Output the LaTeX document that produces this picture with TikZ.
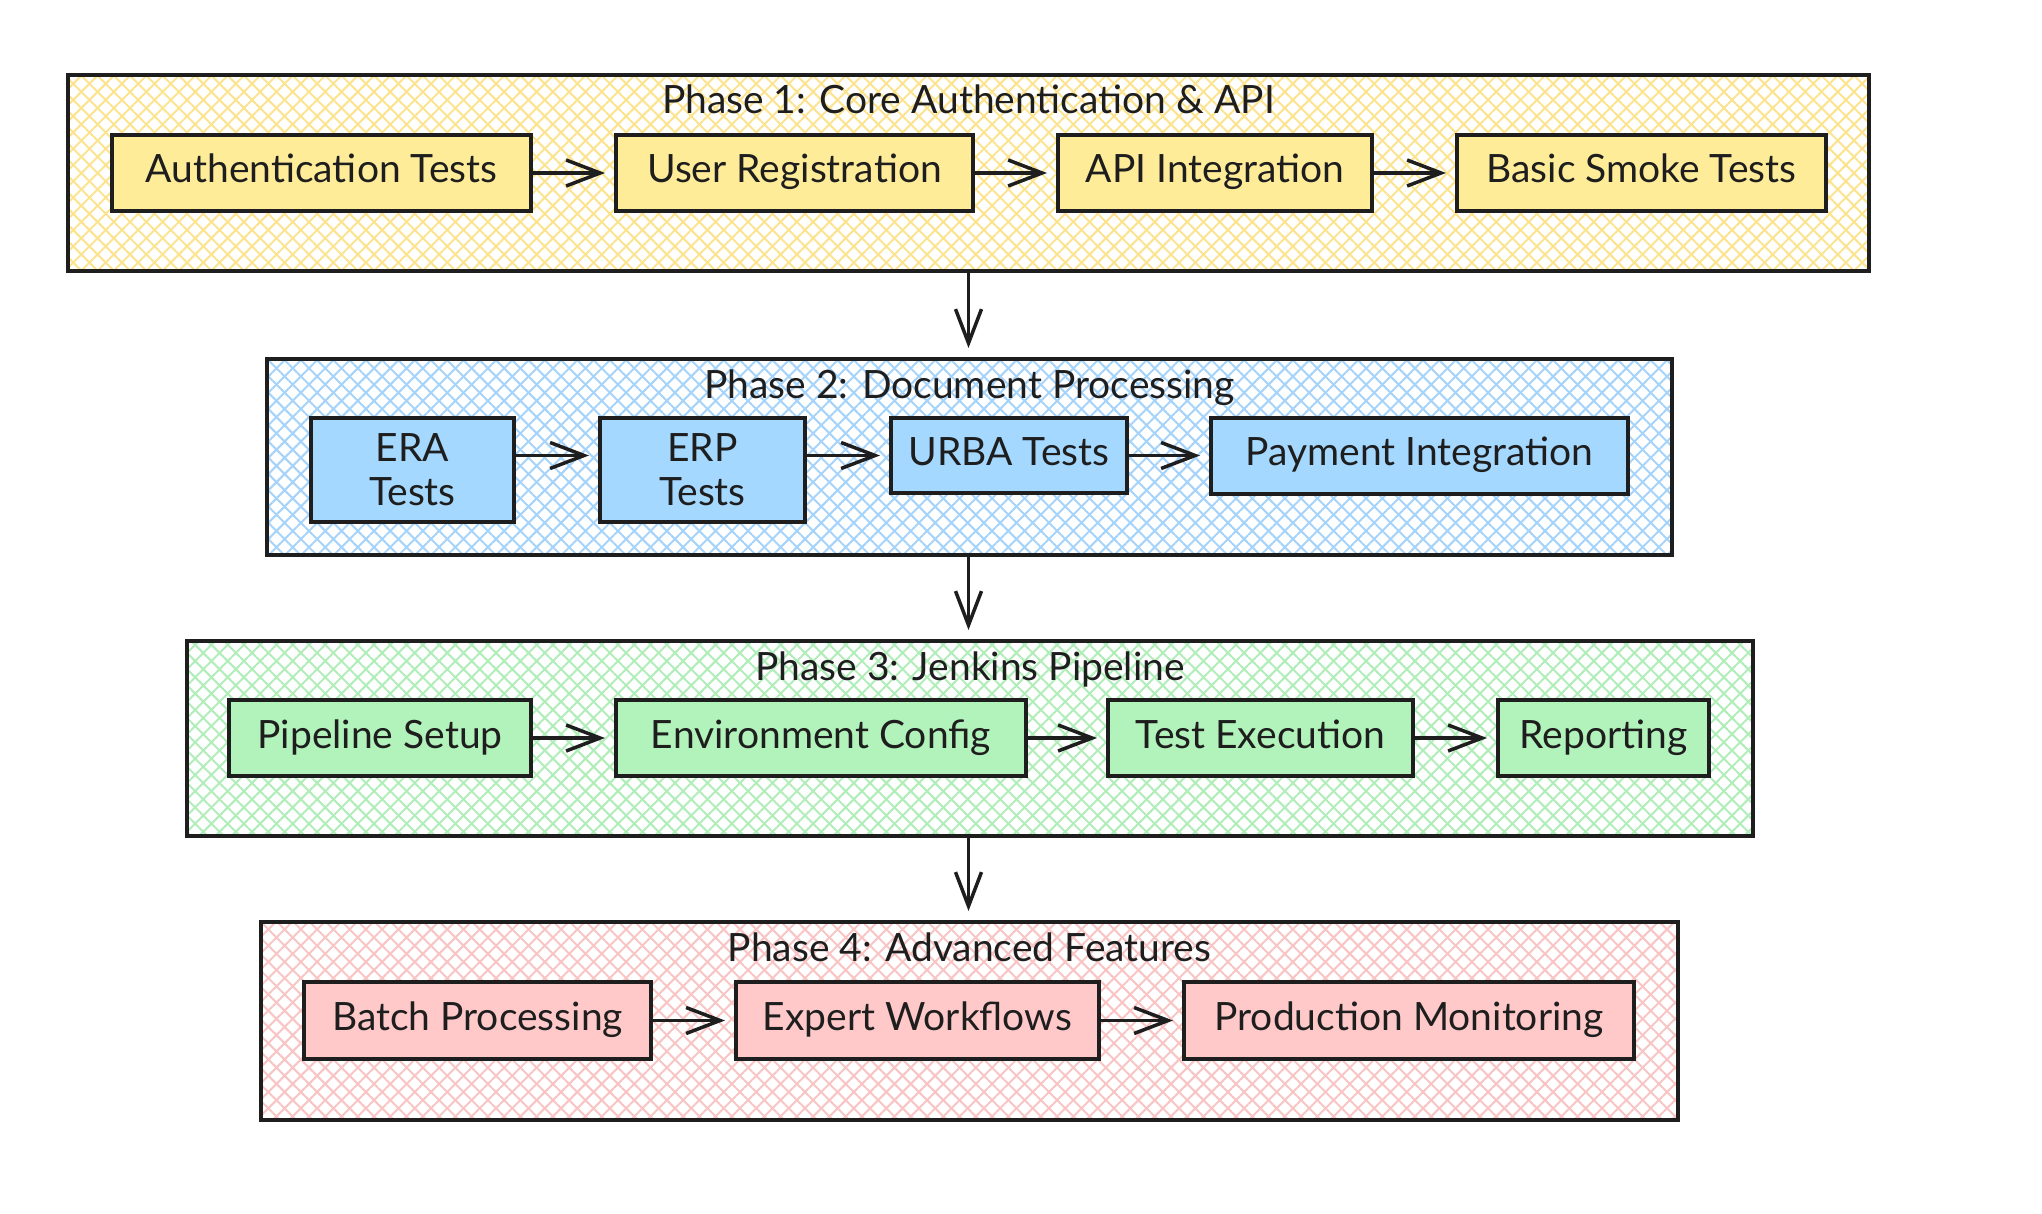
\documentclass[tikz,border=0pt]{standalone}
\usepackage{fontspec}
\setmainfont{Lato}
\usetikzlibrary{arrows.meta,patterns.meta}
\definecolor{ink}{HTML}{1E1E1E}
\definecolor{cy}{HTML}{FFEC99}
\definecolor{cb}{HTML}{A5D8FF}
\definecolor{cg}{HTML}{B2F2BB}
\definecolor{cr}{HTML}{FFC9C9}
\definecolor{hy}{HTML}{FCE38F}
\definecolor{hb}{HTML}{A5D3FA}
\definecolor{hg}{HTML}{B0EDB8}
\definecolor{hr}{HTML}{F8C4C4}
\tikzset{
  txt/.style={text=ink, font=\fontsize{39}{44}\selectfont},
  cont/.style={draw=ink, line width=4pt, inner sep=0pt,
    pattern={Lines[angle=45,distance=11.5pt,line width=2pt]}, pattern color=#1,
    preaction={pattern={Lines[angle=-45,distance=11.5pt,line width=2pt]}, pattern color=#1}},
  stepbox/.style={draw=ink, line width=4pt, fill=#1, inner sep=0pt, align=center, txt,
    text height=29pt, text depth=9pt},
  ttl/.style={txt, anchor=base, inner sep=0pt},
  arr/.style={draw=ink, line width=3.5pt, shorten >=9pt,
    -{Straight Barb[length=34pt,width=26pt,line width=3.5pt]}},
}
\begin{document}
\begin{tikzpicture}[x=1pt,y=-1pt]
\useasboundingbox (0,0) rectangle (2042,1214);
% containers
\node[cont=hy, minimum width=1801pt, minimum height=196pt] (p1) at (968.5,173) {};
\node[cont=hb, minimum width=1405pt, minimum height=196pt] (p2) at (969.5,457) {};
\node[cont=hg, minimum width=1566pt, minimum height=195pt] (p3) at (970,738.5) {};
\node[cont=hr, minimum width=1417pt, minimum height=198pt] (p4) at (969.5,1021) {};
% titles
\node[ttl] (t1) at (968.5,114) {Phase 1: Core Authentication \& API};
\node[ttl] (t2) at (969.5,398) {Phase 2: Document Processing};
\node[ttl] (t3) at (970,680) {Phase 3: Jenkins Pipeline};
\node[ttl] (t4) at (969.5,961) {Phase 4: Advanced Features};
% phase 1
\node[stepbox=cy, minimum width=419pt, minimum height=76pt] (a1) at (321.5,173) {Authentication Tests};
\node[stepbox=cy, minimum width=357pt, minimum height=76pt] (a2) at (794.5,173) {User Registration};
\node[stepbox=cy, minimum width=314pt, minimum height=76pt] (a3) at (1215,173) {API Integration};
\node[stepbox=cy, minimum width=369pt, minimum height=76pt] (a4) at (1641.5,173) {Basic Smoke Tests};
% phase 2
\node[stepbox=cb, minimum width=203pt, minimum height=104pt, text height=, text depth=] (b1) at (412.5,470) {ERA\\Tests};
\node[stepbox=cb, minimum width=205pt, minimum height=104pt, text height=, text depth=] (b2) at (702.5,470) {ERP\\Tests};
\node[stepbox=cb, minimum width=236pt, minimum height=75pt] (b3) at (1009,455.5) {URBA Tests};
\node[stepbox=cb, minimum width=417pt, minimum height=76pt] (b4) at (1419.5,455.5) {Payment Integration};
% phase 3
\node[stepbox=cg, minimum width=302pt, minimum height=76pt] (c1) at (380,738) {Pipeline Setup};
\node[stepbox=cg, minimum width=410pt, minimum height=76pt] (c2) at (821,738) {Environment Config};
\node[stepbox=cg, minimum width=305pt, minimum height=76pt] (c3) at (1260.5,738) {Test Execution};
\node[stepbox=cg, minimum width=211pt, minimum height=76pt] (c4) at (1603.5,738) {Reporting};
% phase 4
\node[stepbox=cr, minimum width=347pt, minimum height=77pt] (d1) at (477.5,1020.5) {Batch Processing};
\node[stepbox=cr, minimum width=363pt, minimum height=77pt] (d2) at (917.5,1020.5) {Expert Workflows};
\node[stepbox=cr, minimum width=450pt, minimum height=77pt] (d3) at (1409,1020.5) {Production Monitoring};
% arrows within phases
\draw[arr] (a1.east) -- (a2.west);
\draw[arr] (a2.east) -- (a3.west);
\draw[arr] (a3.east) -- (a4.west);
\draw[arr] (b1.east |- b3.center) -- (b2.west |- b3.center);
\draw[arr] (b2.east |- b3.center) -- (b3.west);
\draw[arr] (b3.east) -- (b4.west);
\draw[arr] (c1.east) -- (c2.west);
\draw[arr] (c2.east) -- (c3.west);
\draw[arr] (c3.east) -- (c4.west);
\draw[arr] (d1.east) -- (d2.west);
\draw[arr] (d2.east) -- (d3.west);
% arrows between phases
\draw[arr] (p1.south) -- (p1.south |- p2.north);
\draw[arr] (p1.south |- p2.south) -- (p1.south |- p3.north);
\draw[arr] (p1.south |- p3.south) -- (p1.south |- p4.north);
\end{tikzpicture}
\end{document}
